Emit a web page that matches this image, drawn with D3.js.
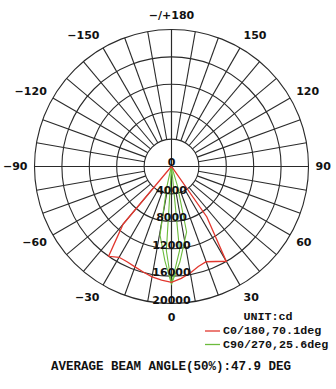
<!DOCTYPE html>
<html>
<head>
<meta charset="utf-8">
<script src="https://cdn.jsdelivr.net/npm/d3@7/dist/d3.min.js"></script>
<style>
html,body{margin:0;padding:0;background:#fff;}
svg{display:block;}
</style>
</head>
<body>
<svg id="chart" width="336" height="389"></svg>
<script>
// ---- data ----
const ringValues = [4000, 8000, 12000, 16000, 20000];
const ringLabels = ["0", "4000", "8000", "12000", "16000", "20000"];
const angleTicks = [0, 30, 60, 90, 120, 150, 180, -30, -60, -90, -120, -150];
const angleTickLabels = ["0", "30", "60", "90", "120", "150", "\u2212/+180", "\u221230", "\u221260", "\u221290", "\u2212120", "\u2212150"];

// C0/180 plane (gamma angle in degrees, intensity in cd)
const redAngles = [-50, -45, -40, -35, -30, -25, -20, -15, -10, -5, 0, 5, 10, 15, 20, 25, 30, 35, 40, 45, 50];
const redValues = [0, 200, 11000, 16000, 15300, 15350, 15600, 15950, 16350, 16650, 16900, 16400, 15800, 15100, 14800, 15300, 16000, 9000, 200, 0, 0];

// C90/270 plane (outer trace and inner trace)
const greenAngles = [-25, -21, -17, -13, -9.5, -4, 0, 5, 13, 17, 21, 25];
const greenValues = [0, 0, 300, 3000, 10150, 13800, 17150, 14000, 9800, 3000, 300, 0];
const greenInnerAngles = [-4, -3.5, 0, 5.5, 6];
const greenInnerValues = [0, 12300, 17150, 12300, 0];

const seriesNames = ["C0/180,70.1deg", "C90/270,25.6deg"];
const seriesColors = ["#e2372e", "#6cbb3c"];
const unitLabel = "UNIT:cd";
const footer = "AVERAGE BEAM ANGLE(50%):47.9 DEG";

// ---- layout ----
const cx = 171.5, cy = 166.5, R = 137;
const svg = d3.select("#chart");
svg.append("rect").attr("width", 336).attr("height", 389).attr("fill", "#fff");

const r = d3.scaleLinear().domain([0, 20000]).range([0, R]);
// 0 deg at bottom, positive to the right, 180 at top
const a = d3.scaleLinear().domain([0, 180]).range([Math.PI, 0]);

const g = svg.append("g").attr("transform", `translate(${cx},${cy})`);

const gridColor = "#2a2a2a";
// rings
g.selectAll("circle.ring").data(ringValues).join("circle")
  .attr("class", "ring")
  .attr("r", d => r(d))
  .attr("fill", "none")
  .attr("stroke", gridColor)
  .attr("stroke-width", 1.1);

// radial spokes every 10 deg from first ring to outer ring
const spokes = d3.range(-170, 190, 10);
g.selectAll("line.spoke").data(spokes).join("line")
  .attr("class", "spoke")
  .attr("x1", d => r(ringValues[0]) * Math.sin(a(d)))
  .attr("y1", d => -r(ringValues[0]) * Math.cos(a(d)))
  .attr("x2", d => r(20000) * Math.sin(a(d)))
  .attr("y2", d => -r(20000) * Math.cos(a(d)))
  .attr("stroke", gridColor)
  .attr("stroke-width", 1.1);

// full diameters through centre
[0, 90].forEach(t => {
  g.append("line")
    .attr("x1", r(20000) * Math.sin(a(t))).attr("y1", -r(20000) * Math.cos(a(t)))
    .attr("x2", r(20000) * Math.sin(a(t + 180))).attr("y2", -r(20000) * Math.cos(a(t + 180)))
    .attr("stroke", gridColor).attr("stroke-width", 1.1);
});

// curves
const radial = d3.lineRadial()
  .angle(d => a(d[0]))
  .radius(d => r(d[1]))
  .curve(d3.curveLinear);

const redData = redAngles.map((d, i) => [d, redValues[i]]);
const greenData = greenAngles.map((d, i) => [d, greenValues[i]]);
const greenInnerData = greenInnerAngles.map((d, i) => [d, greenInnerValues[i]]);

g.append("path").attr("d", radial(greenInnerData))
  .attr("fill", "none").attr("stroke", seriesColors[1]).attr("stroke-width", 1.1);
g.append("path").attr("d", radial(greenData))
  .attr("fill", "none").attr("stroke", seriesColors[1]).attr("stroke-width", 1.1);
g.append("path").attr("d", radial(redData))
  .attr("fill", "none").attr("stroke", seriesColors[0]).attr("stroke-width", 1.3);

// ring value labels along the 0 axis
const sansBold = "'DejaVu Sans', sans-serif";
g.selectAll("text.rlab").data(ringLabels).join("text")
  .attr("class", "rlab")
  .attr("x", 0)
  .attr("y", (d, i) => i === 0 ? -1 : r(ringValues[i - 1]))
  .attr("text-anchor", "middle")
  .attr("font-family", sansBold)
  .attr("font-weight", "bold")
  .attr("font-size", 11)
  .attr("fill", "#111")
  .text(d => d);

// angle labels: anchored by their inner edge
g.selectAll("text.alab").data(angleTicks).join("text")
  .attr("class", "alab")
  .attr("x", d => 144 * Math.sin(a(d)))
  .attr("y", d => -151 * Math.cos(a(d)))
  .attr("text-anchor", d => (d === 0 || d === 180) ? "middle" : (d > 0 ? "start" : "end"))
  .attr("dominant-baseline", "central")
  .attr("font-family", sansBold)
  .attr("font-weight", "bold")
  .attr("font-size", 11)
  .attr("fill", "#111")
  .text((d, i) => angleTickLabels[i]);

// legend
const mono = "'Liberation Mono', 'Courier New', monospace";
svg.append("text")
  .attr("x", 268).attr("y", 317)
  .attr("text-anchor", "middle").attr("dominant-baseline", "central")
  .attr("font-family", mono).attr("font-weight", "bold").attr("font-size", 11.7)
  .attr("fill", "#111").text(unitLabel);

const leg = svg.selectAll("g.leg").data(seriesNames).join("g")
  .attr("class", "leg")
  .attr("transform", (d, i) => `translate(205,${331 + i * 13.5})`);
leg.append("line").attr("x1", 0).attr("x2", 15).attr("y1", 0).attr("y2", 0)
  .attr("stroke", (d, i) => seriesColors[i]).attr("stroke-width", 1.3);
leg.append("text").attr("x", 18).attr("y", 0)
  .attr("dominant-baseline", "central")
  .attr("font-family", mono).attr("font-weight", "bold").attr("font-size", 11.7)
  .attr("fill", "#111").text(d => d);

svg.append("text")
  .attr("x", 171).attr("y", 367)
  .attr("text-anchor", "middle").attr("dominant-baseline", "central")
  .attr("font-family", mono).attr("font-weight", "bold").attr("font-size", 12.5)
  .attr("fill", "#111").text(footer);
</script>
</body>
</html>
